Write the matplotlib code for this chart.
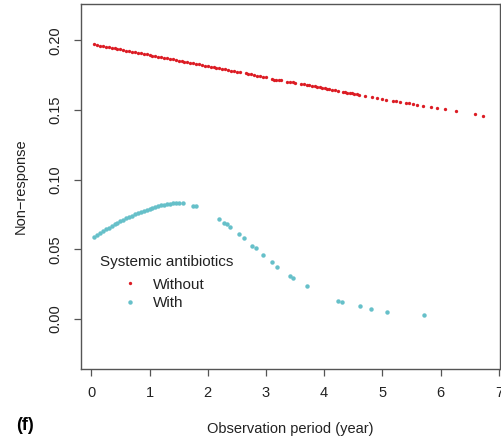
import matplotlib.pyplot as plt

plt.rcParams['font.family'] = ['Liberation Sans', 'DejaVu Sans']

# Without systemic antibiotics
x_without = [0.05, 0.10, 0.15, 0.20, 0.25, 0.30, 0.35, 0.40, 0.45, 0.50,
             0.55, 0.60, 0.65, 0.70, 0.75, 0.80, 0.85, 0.90, 0.95, 1.00,
             1.05, 1.10, 1.15, 1.20, 1.25, 1.30, 1.35, 1.40, 1.45, 1.50,
             1.55, 1.60, 1.65, 1.70, 1.75, 1.80, 1.85, 1.90, 1.95, 2.00,
             2.05, 2.10, 2.15, 2.20, 2.25, 2.30, 2.35, 2.40, 2.45, 2.50,
             2.55, 2.65, 2.70, 2.75, 2.80, 2.85, 2.90, 2.95, 3.00,
             3.10, 3.14, 3.18, 3.22, 3.26, 3.36, 3.41, 3.46, 3.50, 3.61,
             3.66, 3.70, 3.74, 3.79, 3.84, 3.87, 3.92, 3.97, 4.01, 4.04,
             4.08, 4.13, 4.18, 4.24, 4.32, 4.36, 4.40, 4.44, 4.48, 4.52,
             4.56, 4.60, 4.70, 4.82, 4.91, 5.00, 5.06, 5.19, 5.24, 5.30,
             5.40, 5.46, 5.53, 5.59, 5.70, 5.83, 5.93, 6.07, 6.27, 6.59, 6.73]
y_without = [0.1970, 0.1966, 0.1962, 0.1958, 0.1954, 0.1950, 0.1946, 0.1942, 0.1938, 0.1934,
             0.1930, 0.1926, 0.1922, 0.1918, 0.1914, 0.1910, 0.1906, 0.1902, 0.1898, 0.1894,
             0.1890, 0.1886, 0.1882, 0.1878, 0.1874, 0.1870, 0.1866, 0.1862, 0.1858, 0.1854,
             0.1850, 0.1846, 0.1842, 0.1838, 0.1834, 0.1830, 0.1826, 0.1822, 0.1818, 0.1814,
             0.1810, 0.1806, 0.1802, 0.1798, 0.1794, 0.1790, 0.1786, 0.1782, 0.1778, 0.1774,
             0.1770, 0.1762, 0.1758, 0.1754, 0.1750, 0.1746, 0.1742, 0.1738, 0.1734,
             0.1720, 0.1718, 0.1716, 0.1713, 0.1711, 0.1703, 0.1700, 0.1697, 0.1694, 0.1686,
             0.1683, 0.1680, 0.1676, 0.1673, 0.1669, 0.1665, 0.1662, 0.1658, 0.1655, 0.1652,
             0.1649, 0.1645, 0.1641, 0.1637, 0.1630, 0.1627, 0.1624, 0.1621, 0.1618, 0.1615,
             0.1612, 0.1609, 0.1601, 0.1591, 0.1584, 0.1577, 0.1572, 0.1564, 0.1561, 0.1557,
             0.1550, 0.1546, 0.1542, 0.1538, 0.1531, 0.1521, 0.1514, 0.1505, 0.1490, 0.1468, 0.1457]

# With systemic antibiotics
x_with = [0.05, 0.10, 0.15, 0.20, 0.25, 0.30, 0.35, 0.40, 0.45, 0.50,
          0.55, 0.60, 0.65, 0.70, 0.75, 0.80, 0.85, 0.90, 0.95, 1.00,
          1.05, 1.10, 1.15, 1.20, 1.25, 1.30, 1.35, 1.40, 1.45, 1.50,
          1.57, 1.74, 1.79, 2.19, 2.28, 2.33, 2.38, 2.53, 2.62, 2.76,
          2.83, 2.95, 3.11, 3.19, 3.42, 3.46, 3.70, 4.24, 4.30, 4.61,
          4.80, 5.08, 5.71]
y_with = [0.0590, 0.0603, 0.0616, 0.0629, 0.0642, 0.0655, 0.0668, 0.0680, 0.0692, 0.0703,
          0.0713, 0.0723, 0.0733, 0.0742, 0.0751, 0.0760, 0.0768, 0.0776, 0.0784, 0.0791,
          0.0798, 0.0804, 0.0810, 0.0815, 0.0820, 0.0824, 0.0827, 0.0830, 0.0831, 0.0832,
          0.0830, 0.0813, 0.0808, 0.0718, 0.0691, 0.0679, 0.0660, 0.0612, 0.0581, 0.0524,
          0.0507, 0.0462, 0.0407, 0.0376, 0.0309, 0.0297, 0.0237, 0.0132, 0.0122, 0.0091,
          0.0072, 0.0050, 0.0026]

x_ticks = [0, 1, 2, 3, 4, 5, 6, 7]
y_ticks = [0.00, 0.05, 0.10, 0.15, 0.20]

fig = plt.figure(figsize=(5.02, 4.41), dpi=100)
ax = fig.add_axes([0.161, 0.163, 0.835, 0.828])

ax.plot(x_without, y_without, 'o', color='#dc1c24', ms=2.4, mew=0, label='Without')
ax.plot(x_with, y_with, 'o', color='#66c0c9', ms=3.2, mew=0, label='With')

ax.set_xlim(-0.18, 7.02)
ax.set_ylim(-0.036, 0.226)
ax.set_xticks(x_ticks)
ax.set_yticks(y_ticks)
ax.set_yticklabels([f'{v:.2f}' for v in y_ticks], rotation=90, va='center')

for s in ax.spines.values():
    s.set_color('#555555')
    s.set_linewidth(1.0)
ax.tick_params(direction='out', length=5, width=0.9, color='#555555',
               labelsize=10.5, labelcolor='#222222')
ax.tick_params(axis='x', pad=7)
ax.tick_params(axis='y', pad=8)

ax.set_xlabel('Observation period (year)', fontsize=10.5, color='#222222')
ax.xaxis.set_label_coords(0.499, -0.145)
ax.set_ylabel('Non\u2212response', fontsize=10.5, color='#222222')
ax.yaxis.set_label_coords(-0.127, 0.5)

# legend: title drawn separately so the entries can sit a bit lower
ax.text(0.045, 0.293, 'Systemic antibiotics', transform=ax.transAxes,
        fontsize=11, color='#222222', ha='left', va='center')
leg = ax.legend(loc='upper left', bbox_to_anchor=(0.073, 0.250), frameon=False,
                fontsize=11, handlelength=2.41, handletextpad=0.3,
                labelspacing=0.27, borderpad=0, borderaxespad=0)
for t in leg.get_texts():
    t.set_color('#222222')

fig.text(0.05, 0.036, '(f)', fontsize=13, fontweight='bold', ha='center', va='center')

fig.savefig('out.png', dpi=100)
